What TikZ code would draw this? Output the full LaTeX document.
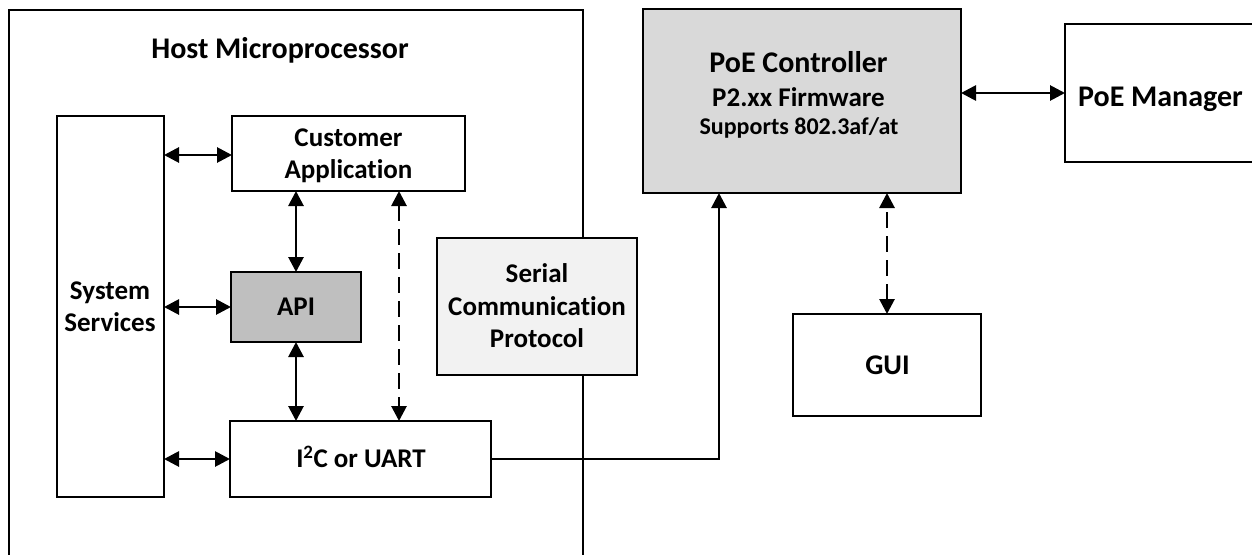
\documentclass[tikz,border=0pt]{standalone}
\usepackage{fontspec}
\setmainfont{Carlito}[Ligatures=NoCommon]
\usetikzlibrary{arrows.meta}
\definecolor{apigray}{HTML}{BFBFBF}
\definecolor{sergray}{HTML}{F2F2F2}
\definecolor{poegray}{HTML}{D9D9D9}
\begin{document}
\begin{tikzpicture}[x=1pt,y=-1pt,
  >={Triangle[length=15pt,width=15pt]},
  bx/.style={draw=black, line width=2.1pt, inner sep=0pt, outer sep=0pt},
  bxthick/.style={bx, line width=2.8pt},
  lbl/.style={inner sep=0pt, outer sep=0pt, anchor=base, font=\bfseries\fontsize{27}{32}\selectfont},
  lblbig/.style={lbl, font=\bfseries\fontsize{30}{36}\selectfont},
  conn/.style={line width=2.8pt, <->},
  dconn/.style={line width=2.8pt, <->, dash pattern=on 16pt off 8pt},
  wire/.style={line width=2.8pt}]
\useasboundingbox (0,0) rectangle (1252,554);
\clip (0,0) rectangle (1252,554);
\fill[white] (0,0) rectangle (1252,554);

% host box (open at the bottom edge of the picture)
\node[bxthick, minimum width=574pt, minimum height=560pt] (host) at (296,290) {};
\node[lblbig] (thost) at (280,58) {Host Microprocessor};

% inner boxes
\node[bx, minimum width=107pt, minimum height=381pt] (sys) at (110.5,306.5) {};
\node[bx, minimum width=233pt, minimum height=75pt] (ca) at (348.5,153.5) {};
\node[bx, fill=apigray, minimum width=130pt, minimum height=70pt] (api) at (296,307) {};
\node[bx, minimum width=261pt, minimum height=76pt] (i2c) at (360.5,459) {};
\node[bx, fill=sergray, minimum width=200pt, minimum height=137pt] (serial) at (537,306.5) {};

% right side boxes
\node[bxthick, fill=poegray, minimum width=318pt, minimum height=184pt] (poe) at (802,101) {};
\node[bxthick, minimum width=195pt, minimum height=138pt] (mgr) at (1162.5,93) {};
\node[bxthick, minimum width=188pt, minimum height=102pt] (gui) at (887,365) {};

% labels
\node[lbl] (tsys1) at (110,299.3) {System};
\node[lbl] (tsys2) at (110,331.3) {Services};
\node[lbl] (tca1) at (348.5,146.5) {Customer};
\node[lbl] (tca2) at (348.5,178) {Application};
\node[lbl] (tapi) at (296,315.7) {API};
\node[lbl] (ti2c) at (361,467.7) {I\textsuperscript{2}C or UART};
\node[lbl] (tser1) at (537,282.7) {Serial};
\node[lbl] (tser2) at (537,315.7) {Communication};
\node[lbl] (tser3) at (537,347.7) {Protocol};
\node[lblbig] (tpoe1) at (798.5,72.3) {PoE Controller};
\node[lbl] (tpoe2) at (798.5,106) {P2.xx Firmware};
\node[lbl, font=\bfseries\fontsize{24}{29}\selectfont] (tpoe3) at (799,134.5) {Supports 802.3af/at};
\node[lblbig] (tmgr) at (1160.5,106) {PoE Manager};
\node[lbl, font=\bfseries\fontsize{28.5}{34}\selectfont] (tgui) at (887.5,374.3) {GUI};

% helper coordinates
\coordinate (dx) at (399,0);
\coordinate (px) at (719,0);

% connectors
\draw[conn] (sys.east |- 0,155) -- (ca.west |- 0,155);
\draw[conn] (sys.east |- api.west) -- (api.west);
\draw[conn] (sys.east |- i2c.west) -- (i2c.west);
\draw[conn] (api.north) -- (api.north |- ca.south);
\draw[conn] (api.south) -- (api.south |- i2c.north);
\draw[dconn] (dx |- ca.south) -- (dx |- i2c.north);
\draw[wire, ->] (i2c.east) -| (px |- poe.south);
\draw[dconn] (gui.north) -- (gui.north |- poe.south);
\draw[conn] (poe.east |- mgr.west) -- (mgr.west);
\end{tikzpicture}
\end{document}
